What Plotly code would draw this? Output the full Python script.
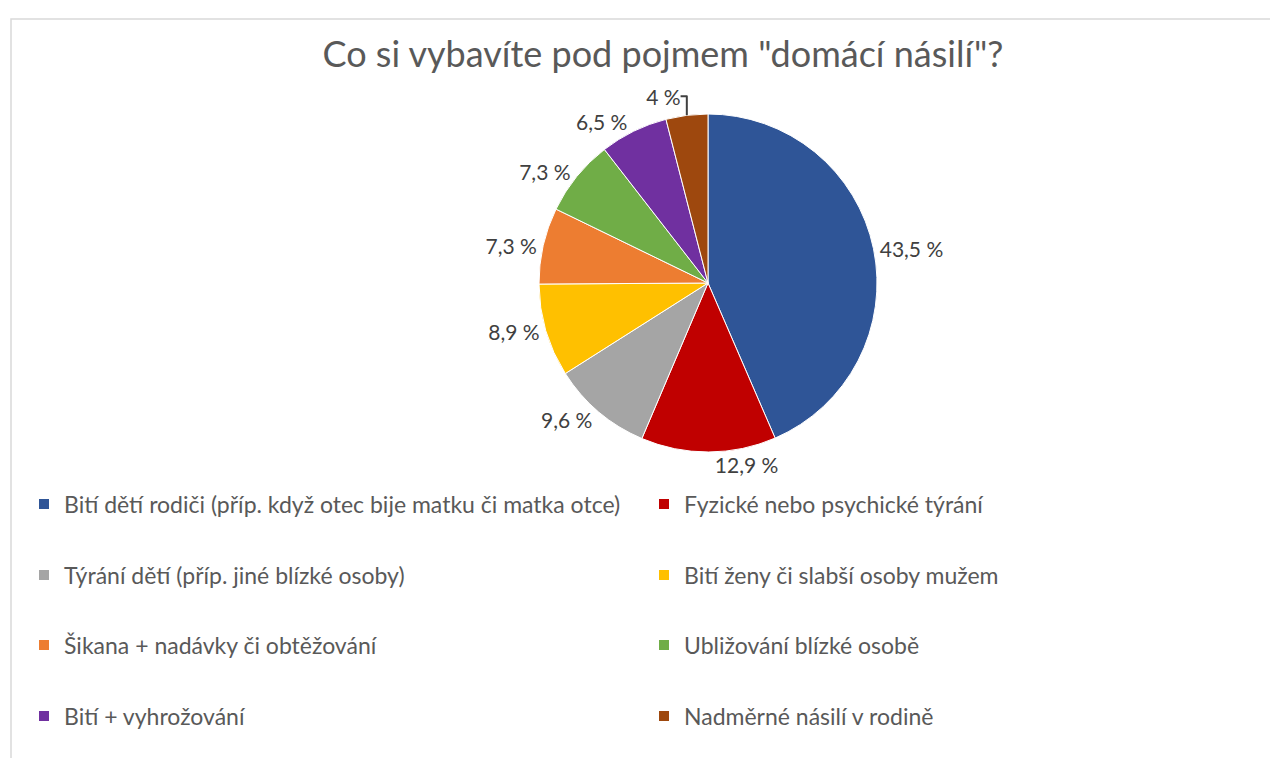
import plotly.graph_objects as go

title = 'Co si vybavíte pod pojmem "domácí násilí"?'
categories = [
    "Bití dětí rodiči (příp. když otec bije matku či matka otce)",
    "Fyzické nebo psychické týrání",
    "Týrání dětí (příp. jiné blízké osoby)",
    "Bití ženy či slabší osoby mužem",
    "Šikana + nadávky či obtěžování",
    "Ubližování blízké osobě",
    "Bití + vyhrožování",
    "Nadměrné násilí v rodině",
]
values = [43.5, 12.9, 9.6, 8.9, 7.3, 7.3, 6.5, 4]
colors = ["#2F5597", "#C00000", "#A5A5A5", "#FFC000", "#ED7D31", "#70AD47", "#7030A0", "#9E480E"]

labels_txt = [f"{v:g}".replace(".", ",") + " %" for v in values]

W, H = 1278, 758
FONT = "Lato, Open Sans, sans-serif"

fig = go.Figure()
fig.add_trace(go.Pie(
    labels=categories, values=values, text=labels_txt, textinfo="text",
    textposition="outside", sort=False, direction="clockwise", rotation=0,
    marker=dict(colors=colors, line=dict(color="white", width=1)),
    textfont=dict(family=FONT, size=21, color="#404040"),
    showlegend=False, hoverinfo="label+percent",
    domain=dict(x=[410 / W, 990 / W], y=[1 - 444 / H, 1 - 106 / H]),
))

# legend entries: 2 columns x 4 rows
col_x = [16, 636]
row_y = [496, 567, 637, 708]
layout_legends = {}
for i, (cat, col) in enumerate(zip(categories, colors)):
    lname = "legend" if i == 0 else f"legend{i + 1}"
    fig.add_trace(go.Scatter(
        x=[None], y=[None], mode="markers", name=cat,
        marker=dict(symbol="square", size=10, color=col),
        legend=lname, showlegend=True, hoverinfo="skip",
    ))
    r, c = divmod(i, 2)
    layout_legends[lname] = dict(
        x=col_x[c] / W, y=1 - row_y[r] / H, xanchor="left", yanchor="middle",
        bgcolor="rgba(0,0,0,0)", font=dict(family=FONT, size=23, color="#595959"),
        itemwidth=30,
    )

fig.update_layout(
    width=W, height=H,
    margin=dict(l=0, r=0, t=0, b=0),
    paper_bgcolor="white", plot_bgcolor="white",
    title=dict(text=title, x=655 / W, xanchor="center", y=1 - 46 / H, yanchor="middle",
               font=dict(family=FONT, size=36, color="#595959")),
    xaxis=dict(visible=False), yaxis=dict(visible=False),
    shapes=[dict(type="rect", xref="paper", yref="paper",
                 x0=3 / W, x1=1.02, y0=-0.02, y1=1 - 11 / H,
                 line=dict(color="#D9D9D9", width=1.5), fillcolor="rgba(0,0,0,0)")],
    **layout_legends,
)

fig.write_html("out.html")
